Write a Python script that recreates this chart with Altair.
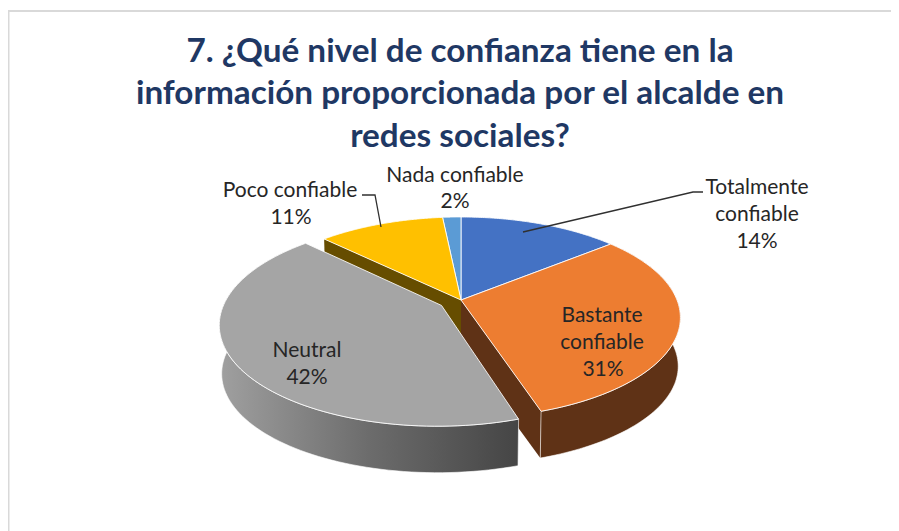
import math
import altair as alt
import pandas as pd

# --- data ---
categories = ["Totalmente confiable", "Bastante confiable", "Neutral", "Poco confiable", "Nada confiable"]
percent = [14, 31, 42.4, 11, 1.6]
top_colors = ["#4472c4", "#ed7d31", "#a5a5a5", "#ffc000", "#5b9bd5"]
title_lines = ["7. ¿Qué nivel de confianza tiene en la",
               "información proporcionada por el alcalde en",
               "redes sociales?"]

# --- look of the tilted pie (page pixels) ---
CX, CY, A, P = 461, 300, 216, 0.175
B = 83 * (1 + P)
DEPTH, BOTTOM_X, BOTTOM_Y = 49, 0.99, 0.98
EXPLODE = 0.105
FONT = "Lato"
X = alt.X("x:Q", scale=alt.Scale(domain=[8, 891]), axis=None)
Y = alt.Y("y:Q", scale=alt.Scale(domain=[531, 8]), axis=None)

total = sum(percent)
edges = [0]
for v in percent:
    edges.append(edges[-1] + v / total)


def project(u, v, bottom=False):
    w = 1 / (1 + P * v)
    if bottom:
        return CX + A * u * w * BOTTOM_X, CY - B * v * w * BOTTOM_Y + DEPTH
    return CX + A * u * w, CY - B * v * w


def shift_of(i):
    if categories[i] != "Neutral":
        return 0.0, 0.0
    mid = 2 * math.pi * (edges[i] + edges[i + 1]) / 2
    return EXPLODE * math.sin(mid), EXPLODE * math.cos(mid)


def arc(i, bottom=False, n=90):
    du, dv = shift_of(i)
    pts = []
    for k in range(n + 1):
        t = 2 * math.pi * (edges[i] + (edges[i + 1] - edges[i]) * k / n)
        pts.append(project(math.sin(t) + du, math.cos(t) + dv, bottom))
    return pts


def apex(i, bottom=False):
    du, dv = shift_of(i)
    return project(du, dv, bottom)


def poly(points, fill, stroke="#ffffff", sw=1.0, so=1.0):
    pts = list(points) + [points[0]]
    df = pd.DataFrame({"x": [p[0] for p in pts], "y": [p[1] for p in pts], "o": range(len(pts))})
    return alt.Chart(df).mark_line(fill=fill, stroke=stroke, strokeWidth=sw, strokeOpacity=so,
                                   strokeJoin="round", clip=False, interpolate="linear").encode(
        x=X, y=Y, order="o:Q")


def top(i):
    return poly([apex(i)] + arc(i), top_colors[i], sw=1.0, so=0.85)


def outer_wall(i, fill):
    return poly(arc(i) + arc(i, True)[::-1], fill, so=0.6)


def cut_wall(i, end, fill):
    a = arc(i)
    b = arc(i, True)
    idx = 0 if end == "start" else -1
    return poly([apex(i), a[idx], b[idx], apex(i, True)], fill, so=0.0)


def polyline(xs, ys):
    df = pd.DataFrame({"x": xs, "y": ys, "o": range(len(xs))})
    return alt.Chart(df).mark_line(color="#303030", strokeWidth=1.3).encode(x=X, y=Y, order="o:Q")


def text(lines, size, color, weight="normal"):
    df = pd.DataFrame(lines, columns=["x", "y", "t"])
    return alt.Chart(df).mark_text(font=FONT, fontSize=size, color=color, fontWeight=weight,
                                   align="center", baseline="alphabetic").encode(x=X, y=Y, text="t:N")


T, BA, N, PO, NA = range(5)
pct = [f"{v:.0f}%" for v in percent]
neutral_wall = alt.LinearGradient(
    gradient="linear", x1=0, x2=1, y1=0, y2=0,
    stops=[alt.GradientStop(color="#a0a0a0", offset=0),
           alt.GradientStop(color="#6c6c6c", offset=0.5),
           alt.GradientStop(color="#454545", offset=1)])

layers = [
    polyline([8.5, 8.5], [11, 531]).mark_line(color="#d9d9d9", strokeWidth=2),
    polyline([8, 891], [11, 11]).mark_line(color="#d9d9d9", strokeWidth=2),
    cut_wall(PO, "start", "#664d00"),
    cut_wall(BA, "end", "#5f3216"),
    outer_wall(BA, "#5f3216"),
    top(T), top(NA), top(PO), top(BA),
    outer_wall(N, neutral_wall),
    top(N),
    polyline([523, 693, 703], [232, 192, 192]),
    polyline([362, 375, 381], [195, 195, 227]),
    text([(460, 62, title_lines[0]), (460, 104, title_lines[1]), (460, 147, title_lines[2])],
         33.3, "#1f3864", "bold"),
    text([(757, 194, "Totalmente"), (757, 221, "confiable"), (757, 248, pct[T]),
          (455, 182, "Nada confiable"), (455, 208, pct[NA]),
          (290, 197, "Poco confiable"), (291, 224, pct[PO]),
          (602, 322, "Bastante"), (602, 349, "confiable"), (603, 376, pct[BA]),
          (307, 357, "Neutral"), (307, 384, pct[N])],
         21, "#262626"),
]

chart = alt.layer(*layers).properties(
    width=883, height=523, padding=0, autosize=alt.AutoSizeParams(type="none"),
    background="#ffffff"
).configure_view(stroke=None)

chart.save("out.html", embed_options={"renderer": "svg", "actions": False})
